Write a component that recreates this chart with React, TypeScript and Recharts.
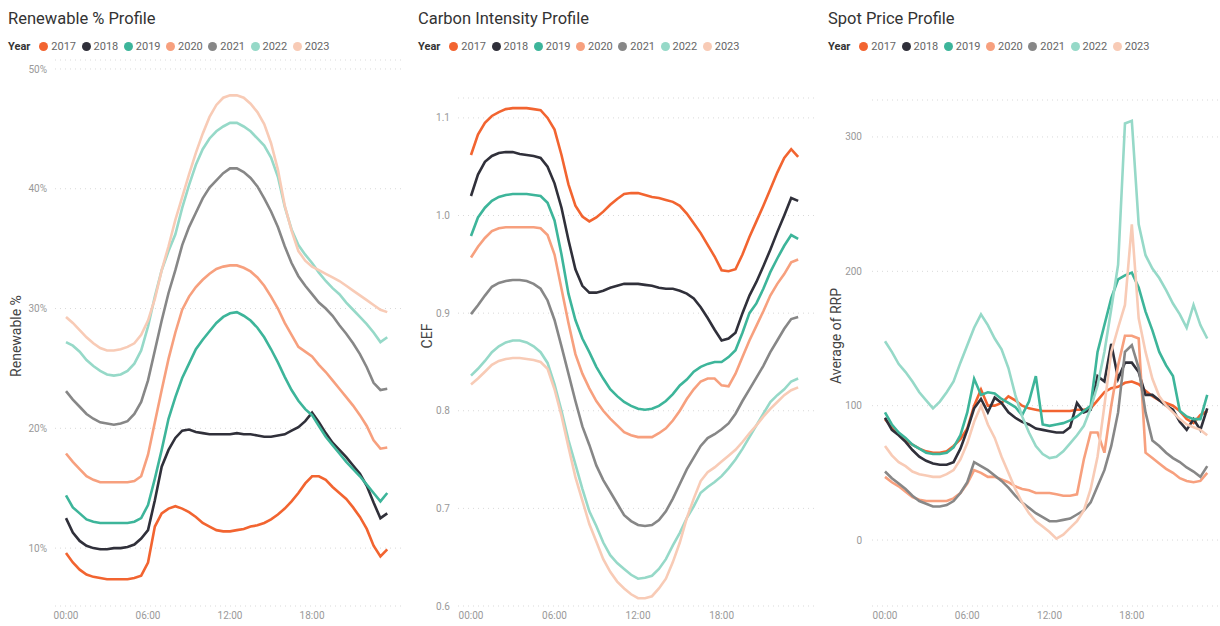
import React from "react";
import { LineChart, Line, XAxis, YAxis, CartesianGrid } from "recharts";

const years = ["2017", "2018", "2019", "2020", "2021", "2022", "2023"];
const colors = ["#F26430", "#30303A", "#3DB59A", "#F7A07E", "#878787", "#96D9C8", "#F8CBB6"];

const hours = [0, 0.5, 1, 1.5, 2, 2.5, 3, 3.5, 4, 4.5, 5, 5.5, 6, 6.5, 7, 7.5, 8, 8.5, 9, 9.5, 10, 10.5, 11, 11.5,
  12, 12.5, 13, 13.5, 14, 14.5, 15, 15.5, 16, 16.5, 17, 17.5, 18, 18.5, 19, 19.5, 20, 20.5, 21, 21.5, 22, 22.5, 23, 23.5];

const xTicks = [0, 6, 12, 18];

// Renewable % profile
const ren2017 = [9.6, 8.8, 8.2, 7.8, 7.6, 7.5, 7.4, 7.4, 7.4, 7.4, 7.5, 7.7, 8.8, 11.8, 12.9, 13.3, 13.5, 13.3, 13.0, 12.6, 12.1, 11.8, 11.5, 11.4, 11.4, 11.5, 11.6, 11.8, 11.9, 12.1, 12.4, 12.8, 13.3, 13.9, 14.6, 15.4, 16.0, 16.0, 15.7, 15.1, 14.6, 14.1, 13.4, 12.6, 11.6, 10.2, 9.3, 9.9];
const ren2018 = [12.5, 11.3, 10.6, 10.2, 10.0, 9.9, 9.9, 10.0, 10.0, 10.1, 10.3, 10.8, 11.5, 14.0, 16.8, 18.2, 19.2, 19.8, 19.9, 19.7, 19.6, 19.5, 19.5, 19.5, 19.5, 19.6, 19.5, 19.5, 19.4, 19.3, 19.3, 19.4, 19.5, 19.8, 20.1, 20.6, 21.3, 20.5, 19.6, 18.8, 18.2, 17.6, 16.9, 16.2, 15.2, 13.8, 12.5, 12.9];
const ren2019 = [14.4, 13.4, 12.9, 12.4, 12.2, 12.1, 12.1, 12.1, 12.1, 12.1, 12.2, 12.5, 13.6, 15.8, 18.2, 20.8, 22.6, 24.2, 25.4, 26.6, 27.4, 28.1, 28.8, 29.3, 29.6, 29.7, 29.4, 29.0, 28.4, 27.6, 26.6, 25.5, 24.3, 23.2, 22.3, 21.6, 21.1, 20.2, 19.3, 18.6, 17.9, 17.2, 16.6, 16.0, 15.3, 14.6, 13.9, 14.6];
const ren2020 = [17.9, 17.2, 16.6, 16.0, 15.7, 15.5, 15.5, 15.5, 15.5, 15.5, 15.6, 16.0, 17.8, 20.5, 23.2, 25.8, 28.0, 29.9, 31.0, 31.8, 32.4, 32.9, 33.3, 33.5, 33.6, 33.6, 33.4, 33.1, 32.6, 31.9, 31.0, 30.0, 28.8, 27.8, 26.8, 26.4, 26.0, 25.3, 24.7, 24.0, 23.3, 22.6, 21.9, 21.1, 20.2, 19.0, 18.3, 18.4];
const ren2021 = [23.1, 22.4, 21.8, 21.2, 20.8, 20.5, 20.4, 20.3, 20.4, 20.6, 21.2, 22.2, 24.0, 26.5, 29.0, 31.3, 33.2, 35.3, 36.8, 38.0, 39.2, 40.1, 40.7, 41.3, 41.7, 41.7, 41.4, 40.9, 40.2, 39.2, 38.1, 36.8, 35.2, 33.8, 32.7, 31.9, 31.2, 30.5, 30.0, 29.4, 28.6, 27.9, 27.1, 26.2, 25.1, 23.8, 23.2, 23.3];
const ren2022 = [27.2, 26.9, 26.4, 25.7, 25.2, 24.8, 24.5, 24.4, 24.5, 24.8, 25.4, 26.5, 28.5, 31.0, 33.2, 34.8, 36.2, 38.4, 40.3, 42.0, 43.3, 44.2, 44.8, 45.2, 45.5, 45.5, 45.2, 44.8, 44.2, 43.6, 42.6, 41.0, 38.5, 36.6, 35.3, 34.5, 33.8, 33.0, 32.3, 31.7, 31.2, 30.5, 29.9, 29.3, 28.7, 28.0, 27.2, 27.6];
const ren2023 = [29.3, 28.8, 28.2, 27.6, 27.1, 26.7, 26.5, 26.5, 26.6, 26.8, 27.1, 27.8, 29.0, 30.8, 33.2, 35.2, 37.4, 39.3, 41.2, 43.0, 44.6, 46.0, 47.0, 47.6, 47.8, 47.8, 47.6, 47.1, 46.4, 45.4, 43.8, 41.6, 38.6, 36.5, 34.8, 34.0, 33.5, 33.2, 32.9, 32.6, 32.3, 31.9, 31.5, 31.1, 30.7, 30.3, 29.9, 29.7];

// Carbon intensity (CEF)
const cef2017 = [1.062, 1.083, 1.095, 1.102, 1.106, 1.109, 1.110, 1.110, 1.110, 1.109, 1.108, 1.100, 1.088, 1.062, 1.032, 1.010, 0.999, 0.994, 0.998, 1.004, 1.011, 1.017, 1.022, 1.023, 1.023, 1.021, 1.019, 1.018, 1.016, 1.014, 1.010, 1.002, 0.992, 0.982, 0.970, 0.958, 0.944, 0.943, 0.945, 0.960, 0.978, 0.994, 1.010, 1.027, 1.044, 1.059, 1.068, 1.060];
const cef2018 = [1.020, 1.042, 1.055, 1.061, 1.064, 1.065, 1.065, 1.063, 1.062, 1.061, 1.059, 1.050, 1.033, 1.008, 0.975, 0.945, 0.928, 0.921, 0.921, 0.923, 0.926, 0.928, 0.930, 0.930, 0.930, 0.929, 0.928, 0.926, 0.925, 0.925, 0.923, 0.920, 0.915, 0.906, 0.895, 0.883, 0.872, 0.874, 0.880, 0.900, 0.918, 0.932, 0.948, 0.965, 0.983, 1.000, 1.018, 1.015];
const cef2019 = [0.979, 0.998, 1.008, 1.015, 1.019, 1.021, 1.022, 1.022, 1.022, 1.021, 1.020, 1.013, 0.995, 0.960, 0.920, 0.893, 0.874, 0.860, 0.845, 0.833, 0.822, 0.815, 0.809, 0.805, 0.802, 0.801, 0.802, 0.805, 0.810, 0.817, 0.826, 0.832, 0.840, 0.845, 0.848, 0.850, 0.850, 0.855, 0.862, 0.880, 0.900, 0.910, 0.925, 0.942, 0.956, 0.969, 0.980, 0.976];
const cef2020 = [0.957, 0.968, 0.977, 0.984, 0.987, 0.988, 0.988, 0.988, 0.988, 0.988, 0.987, 0.980, 0.960, 0.925, 0.890, 0.858, 0.838, 0.823, 0.810, 0.800, 0.792, 0.785, 0.778, 0.775, 0.773, 0.773, 0.773, 0.777, 0.782, 0.790, 0.800, 0.812, 0.822, 0.830, 0.833, 0.833, 0.826, 0.825, 0.838, 0.855, 0.872, 0.887, 0.902, 0.918, 0.930, 0.940, 0.952, 0.955];
const cef2021 = [0.899, 0.908, 0.918, 0.927, 0.931, 0.933, 0.934, 0.934, 0.933, 0.930, 0.925, 0.913, 0.893, 0.866, 0.838, 0.810, 0.784, 0.765, 0.744, 0.729, 0.717, 0.705, 0.693, 0.687, 0.683, 0.682, 0.683, 0.688, 0.697, 0.710, 0.725, 0.740, 0.752, 0.764, 0.772, 0.776, 0.781, 0.787, 0.797, 0.810, 0.822, 0.834, 0.846, 0.860, 0.872, 0.884, 0.894, 0.896];
const cef2022 = [0.836, 0.843, 0.851, 0.860, 0.866, 0.870, 0.872, 0.872, 0.870, 0.866, 0.860, 0.849, 0.827, 0.800, 0.770, 0.745, 0.720, 0.697, 0.682, 0.665, 0.652, 0.644, 0.638, 0.632, 0.628, 0.629, 0.631, 0.638, 0.648, 0.662, 0.675, 0.690, 0.702, 0.716, 0.722, 0.727, 0.733, 0.741, 0.750, 0.761, 0.773, 0.785, 0.797, 0.809, 0.816, 0.822, 0.830, 0.833];
const cef2023 = [0.827, 0.833, 0.840, 0.847, 0.851, 0.853, 0.854, 0.854, 0.853, 0.852, 0.850, 0.843, 0.822, 0.795, 0.763, 0.732, 0.708, 0.684, 0.666, 0.648, 0.635, 0.625, 0.618, 0.612, 0.608, 0.608, 0.610, 0.618, 0.628, 0.645, 0.665, 0.690, 0.710, 0.728, 0.737, 0.742, 0.748, 0.754, 0.760, 0.768, 0.777, 0.785, 0.794, 0.802, 0.809, 0.816, 0.821, 0.824];

// Spot price (average RRP)
const rrp2017 = [90, 84, 79, 74, 71, 68, 66, 65, 65, 66, 70, 75, 83, 100, 112, 100, 100, 102, 107, 104, 100, 98, 97, 96, 96, 96, 96, 96, 97, 97, 98, 104, 110, 113, 114, 117, 118, 116, 111, 107, 104, 102, 100, 96, 90, 87, 93, 96];
const rrp2018 = [91, 82, 78, 73, 67, 62, 59, 57, 56, 56, 58, 68, 82, 98, 105, 95, 106, 102, 95, 91, 88, 86, 83, 82, 81, 80, 80, 84, 102, 95, 97, 122, 118, 146, 120, 132, 132, 125, 108, 108, 104, 100, 97, 88, 82, 90, 82, 98];
const rrp2019 = [95, 86, 80, 76, 71, 68, 65, 64, 64, 65, 69, 78, 95, 120, 108, 110, 109, 105, 102, 99, 93, 103, 122, 86, 85, 86, 87, 89, 92, 96, 100, 140, 160, 180, 194, 197, 199, 188, 170, 156, 140, 130, 122, 96, 92, 90, 90, 108];
const rrp2020 = [47, 43, 40, 36, 32, 30, 29, 29, 29, 29, 31, 35, 42, 52, 50, 47, 47, 45, 43, 40, 38, 37, 35, 35, 35, 34, 33, 33, 34, 60, 80, 80, 65, 100, 130, 152, 152, 150, 65, 61, 57, 53, 50, 46, 44, 43, 44, 50];
const rrp2021 = [51, 46, 42, 38, 33, 29, 27, 25, 25, 26, 29, 35, 43, 58, 55, 52, 48, 44, 39, 33, 28, 24, 20, 17, 14, 14, 15, 16, 19, 22, 28, 40, 52, 70, 95, 140, 145, 128, 95, 74, 70, 65, 61, 58, 54, 51, 47, 55];
const rrp2022 = [148, 140, 131, 125, 118, 110, 104, 98, 103, 110, 118, 132, 145, 158, 168, 160, 150, 142, 128, 108, 92, 80, 70, 64, 61, 62, 66, 72, 78, 85, 98, 115, 140, 172, 205, 310, 312, 235, 212, 202, 195, 186, 176, 168, 158, 175, 160, 150];
const rrp2023 = [70, 63, 58, 55, 51, 49, 48, 47, 47, 49, 52, 60, 72, 88, 100, 86, 76, 62, 50, 38, 28, 20, 14, 10, 6, 1, 4, 9, 14, 22, 38, 62, 100, 140, 158, 175, 235, 165, 140, 120, 107, 100, 95, 90, 86, 84, 82, 78];

const renSeries = [ren2017, ren2018, ren2019, ren2020, ren2021, ren2022, ren2023];
const cefSeries = [cef2017, cef2018, cef2019, cef2020, cef2021, cef2022, cef2023];
const rrpSeries = [rrp2017, rrp2018, rrp2019, rrp2020, rrp2021, rrp2022, rrp2023];

function buildRows(series: number[][]) {
  return hours.map((h, i) => {
    const row: Record<string, number> = { h };
    years.forEach((y, k) => {
      row["y" + y] = series[k][i];
    });
    return row;
  });
}

const FONT = "Roboto, 'Segoe UI', sans-serif";

const fmtTime = (v: number) => (v < 10 ? "0" + v : "" + v) + ":00";

type PanelProps = {
  left: number;
  width: number;
  title: string;
  yLabel: string;
  yLabelX: number;
  rows: Record<string, number>[];
  domain: [number, number];
  yTicks: number[];
  yFmt: (v: number) => string;
  yAxisWidth: number;
  plotTop: number;
  marginRight: number;
  padLeft: number;
  padRight: number;
  tickMargin: number;
};

function Legend() {
  return (
    <div style={{ display: "flex", alignItems: "center", fontFamily: FONT, fontSize: 11, height: 14 }}>
      <span style={{ fontWeight: 700, color: "#333", marginRight: 9 }}>Year</span>
      {years.map((y, i) => (
        <span key={y} style={{ display: "flex", alignItems: "center", marginRight: 5.5 }}>
          <span
            style={{
              width: 9,
              height: 9,
              borderRadius: "50%",
              background: colors[i],
              display: "inline-block",
              marginRight: 3,
            }}
          />
          <span style={{ color: "#666" }}>{y}</span>
        </span>
      ))}
    </div>
  );
}

function Panel(p: PanelProps) {
  return (
    <div style={{ position: "absolute", left: p.left, top: 0, width: p.width, height: 626 }}>
      <div
        style={{
          position: "absolute",
          left: 8,
          top: 9,
          fontFamily: FONT,
          fontSize: 16.5,
          color: "#333",
          lineHeight: "20px",
          whiteSpace: "nowrap",
        }}
      >
        {p.title}
      </div>
      <div style={{ position: "absolute", left: 8, top: 39 }}>
        <Legend />
      </div>
      <div
        style={{
          position: "absolute",
          left: p.yLabelX,
          top: 336,
          transform: "translate(-50%, -50%) rotate(-90deg)",
          fontFamily: FONT,
          fontSize: 14,
          color: "#444",
          whiteSpace: "nowrap",
        }}
      >
        {p.yLabel}
      </div>
      <div style={{ position: "absolute", left: 0, top: 0 }}>
        <LineChart
          width={p.width}
          height={626}
          data={p.rows}
          margin={{ top: p.plotTop, right: p.marginRight, bottom: 0, left: 0 }}
        >
          <CartesianGrid vertical={false} stroke="#d9d9d9" strokeDasharray="1 4" />
          <XAxis
            dataKey="h"
            type="number"
            domain={[0, 23.92]}
            ticks={xTicks}
            tickFormatter={fmtTime}
            axisLine={false}
            tickLine={false}
            tickSize={0}
            tickMargin={6}
            height={20}
            padding={{ left: p.padLeft, right: p.padRight }}
            tick={{ fill: "#999", fontSize: 10, fontFamily: FONT }}
            interval={0}
          />
          <YAxis
            type="number"
            domain={p.domain}
            ticks={p.yTicks}
            tickFormatter={p.yFmt}
            allowDataOverflow
            axisLine={false}
            tickLine={false}
            tickSize={0}
            tickMargin={p.tickMargin}
            width={p.yAxisWidth}
            interval={0}
            tick={{ fill: "#999", fontSize: 10, fontFamily: FONT }}
          />
          {years.map((y, i) => (
            <Line
              key={y}
              dataKey={"y" + y}
              type="linear"
              stroke={colors[i]}
              strokeWidth={2.6}
              dot={false}
              isAnimationActive={false}
            />
          ))}
        </LineChart>
      </div>
    </div>
  );
}

export default function App() {
  const renRows = buildRows(renSeries);
  const cefRows = buildRows(cefSeries);
  const rrpRows = buildRows(rrpSeries);
  return (
    <div style={{ position: "absolute", left: 0, top: 0, width: 1220, height: 626, background: "#fff", overflow: "hidden" }}>
      <Panel
        left={0}
        width={410}
        title="Renewable % Profile"
        yLabel="Renewable %"
        yLabelX={16}
        rows={renRows}
        domain={[5.1667, 50.75]}
        yTicks={[10, 20, 30, 40, 50]}
        yFmt={(v) => v + "%"}
        yAxisWidth={55}
        plotTop={60}
        marginRight={6}
        padLeft={11}
        padRight={11}
        tickMargin={8}
      />
      <Panel
        left={410}
        width={410}
        title="Carbon Intensity Profile"
        yLabel="CEF"
        yLabelX={17}
        rows={cefRows}
        domain={[0.6, 1.1204]}
        yTicks={[0.6, 0.7, 0.8, 0.9, 1.0, 1.1]}
        yFmt={(v) => v.toFixed(1)}
        yAxisWidth={48}
        plotTop={98}
        marginRight={4}
        padLeft={13}
        padRight={12}
        tickMargin={8}
      />
      <Panel
        left={820}
        width={400}
        title="Spot Price Profile"
        yLabel="Average of RRP"
        yLabelX={16}
        rows={rrpRows}
        domain={[-49.1, 327.5]}
        yTicks={[0, 100, 200, 300]}
        yFmt={(v) => String(v)}
        yAxisWidth={52}
        plotTop={100}
        marginRight={0}
        padLeft={13}
        padRight={7}
        tickMargin={10}
      />
    </div>
  );
}
